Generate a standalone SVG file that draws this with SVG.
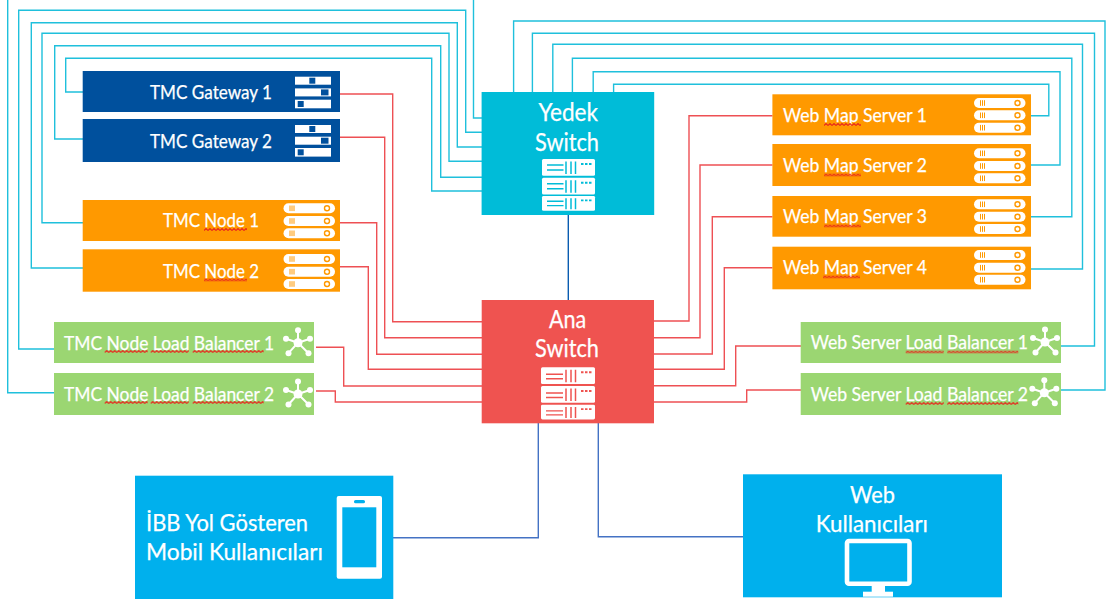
<svg xmlns="http://www.w3.org/2000/svg" xmlns:xlink="http://www.w3.org/1999/xlink" width="1106" height="605" viewBox="0 0 1106 605">
<style>
text{font-family:"Lato","Carlito","Liberation Sans",sans-serif;fill:#fff;stroke:#fff;stroke-width:.25}
.s{font-size:19px}.m{font-size:23px}.l{font-size:24.500px}
.cy,.rd,.bl,.bd{fill:none;stroke-width:1.4}
.cy{stroke:#1fc0dc}.rd{stroke:#ee5054}.bl{stroke:#4472c4}.bd{stroke:#0a5cb0}
.w{fill:#fff}
.sq{fill:url(#sq)}
.pb{fill:none;stroke:#ff9900;stroke-width:1}
.pc{fill:none;stroke:#ff9900;stroke-width:1.400}
.sp{stroke:#fff;stroke-width:2}
</style>
<defs>
<pattern id="sq" patternUnits="userSpaceOnUse" width="4" height="3"><path d="M0 2.500L2 .5L4 2.500" fill="none" stroke="#e8261c" stroke-width="1.100"/></pattern>
<g id="rack"><rect class="w" width="36" height="8" y="0"/><rect x="14.300" y="1" width="6" height="6" fill="#00509d"/><rect class="w" y="11.700" width="36" height="8"/><rect x="26" y="12.700" width="7.500" height="6" fill="#00509d"/><rect class="w" y="23" width="36" height="8.600"/><rect x="2.700" y="24.300" width="6" height="6" fill="#00509d"/></g>
<g id="pill"><rect class="w" x="0" y="-5" width="51.500" height="10" rx="5"/><path class="pb" d="M6.500-2.800V2.800M8.500-2.800V2.800M10.500-2.800V2.800"/><circle class="pc" cx="43.500" cy="0" r="2.500"/></g>
<g id="star"><path class="sp" d="M0 0L0-12.500M0 0L-12-4M0 0L12-4M0 0L10.500 10.500M0 0L-9.500 10.500"/><circle class="w" r="4.500"/><circle class="w" cy="-12.500" r="3"/><circle class="w" cx="-12" cy="-4" r="3"/><circle class="w" cx="12" cy="-4" r="3"/><circle class="w" cx="10.500" cy="10.500" r="3"/><circle class="w" cx="-9.500" cy="10.500" r="3"/></g>
<g id="yr"><rect class="w" width="53" height="16.700" rx="1.500"/><path d="M5 6H21.500M5 11H21.500M24 2.500V15M29 2.500V15M33.500 2.500V15" stroke="#00bcd8" stroke-width="1.500" fill="none"/><path d="M39 5h2.500M43 5h2.500M47 5h2.500" stroke="#00bcd8" stroke-width="2" fill="none"/></g>
<g id="ar"><rect class="w" width="54" height="16.700" rx="1.500"/><path d="M5 7H22M5 11.500H22M25 2.500V15M30 2.500V15M34.500 2.500V15" stroke="#ef5350" stroke-width="1.500" fill="none"/><path d="M40 5h2.500M44 5h2.500M48 5h2.500" stroke="#ef5350" stroke-width="2" fill="none"/></g>
</defs>
<rect width="1106" height="605" fill="#fff"/>
<g id="connectors">
<path class="cy" d="M54 392.700H7.700V-3H473.500V118H482"/>
<path class="cy" d="M54 349H18.700V10.300H465.700V132.300H482"/>
<path class="cy" d="M83 268H31.300V22.700H457.300V147H482"/>
<path class="cy" d="M83 222.700H42V33.300H449V161.300H482"/>
<path class="cy" d="M83 139H54.700V45.700H440.700V177.300H482"/>
<path class="cy" d="M83 92H65.700V58.300H431.700V191H482"/>
<path class="cy" d="M513.600 92V21H1105V390H1061"/>
<path class="cy" d="M532.400 92V33.300H1094.500V346H1061"/>
<path class="cy" d="M552.800 92V44.300H1082.500V269H1031"/>
<path class="cy" d="M572.400 92V58.300H1071.800V216.700H1031"/>
<path class="cy" d="M593.200 92V71.700H1060V165H1031"/>
<path class="cy" d="M613.600 92V84.300H1048.800V115.700H1031"/>
<path class="rd" d="M340 94H392.700V321.700H482"/>
<path class="rd" d="M340 137.300H384.700V337.700H482"/>
<path class="rd" d="M340 222.700H376.700V354.300H482"/>
<path class="rd" d="M340 266.700H368.300V369.300H482"/>
<path class="rd" d="M316 347.300H343.700V386H482"/>
<path class="rd" d="M316 391H335.300V402H482"/>
<path class="rd" d="M654 321H689V115.700H772.500"/>
<path class="rd" d="M654 337.700H700V165H772.500"/>
<path class="rd" d="M654 354H712.300V216.700H772.500"/>
<path class="rd" d="M654 369.300H724.300V267.700H772.500"/>
<path class="rd" d="M654 385.700H735.700V346H801"/>
<path class="rd" d="M654 402H746.700V390H801"/>
<path class="bd" d="M568.300 215V300"/>
<path class="bl" d="M538.300 423V537.700H393"/>
<path class="bl" d="M598.300 423V536.700H743"/>
</g>
<g id="tmc-gateway-1"><rect x="82.700" y="71" width="257.300" height="41" fill="#00509d"/><text class="s" x="150" y="99" textLength="122" lengthAdjust="spacingAndGlyphs">TMC Gateway 1</text><use xlink:href="#rack" href="#rack" transform="translate(295,76.700)"/></g>
<g id="tmc-gateway-2"><rect x="82.700" y="119" width="257.300" height="43" fill="#00509d"/><text class="s" x="150" y="147.500" textLength="122" lengthAdjust="spacingAndGlyphs">TMC Gateway 2</text><use href="#rack" transform="translate(295,125)"/></g>
<g id="tmc-node-1"><rect x="82.700" y="200" width="257.300" height="41" fill="#ff9900"/><text class="s" x="163" y="227" textLength="96" lengthAdjust="spacingAndGlyphs">TMC Node 1</text><rect class="sq" transform="translate(204,228)" width="43" height="3"/><use href="#pill" transform="translate(283.500,208.300)"/><use href="#pill" transform="translate(283.500,221)"/><use href="#pill" transform="translate(283.500,233.300)"/></g>
<g id="tmc-node-2"><rect x="82.700" y="249.300" width="257.300" height="42.400" fill="#ff9900"/><text class="s" x="163" y="277.500" textLength="96" lengthAdjust="spacingAndGlyphs">TMC Node 2</text><rect class="sq" transform="translate(204,278.500)" width="43" height="3"/><use href="#pill" transform="translate(283.500,259)"/><use href="#pill" transform="translate(283.500,271.700)"/><use href="#pill" transform="translate(283.500,284)"/></g>
<g id="tmc-lb-1"><rect x="54" y="322" width="260" height="41" fill="#9bd672"/><text class="s" x="64" y="349.500" textLength="210" lengthAdjust="spacingAndGlyphs">TMC Node Load Balancer 1</text><rect class="sq" transform="translate(104.700,350)" width="43" height="3"/><rect class="sq" transform="translate(150.700,350)" width="38" height="3"/><rect class="sq" transform="translate(192.700,350)" width="71" height="3"/><use href="#star" transform="translate(298,342.700)"/></g>
<g id="tmc-lb-2"><rect x="54" y="373" width="260" height="42" fill="#9bd672"/><text class="s" x="64" y="400.500" textLength="210" lengthAdjust="spacingAndGlyphs">TMC Node Load Balancer 2</text><rect class="sq" transform="translate(104.700,401)" width="43" height="3"/><rect class="sq" transform="translate(150.700,401)" width="38" height="3"/><rect class="sq" transform="translate(192.700,401)" width="71" height="3"/><use href="#star" transform="translate(298,394)"/></g>
<g id="yedek-switch"><rect x="481.600" y="92" width="172.600" height="123" fill="#00bcd8"/><text class="l" x="538.400" y="121.200" textLength="59.600" lengthAdjust="spacingAndGlyphs">Yedek</text><text class="l" x="535" y="150.500" textLength="64" lengthAdjust="spacingAndGlyphs">Switch</text>
<use href="#yr" transform="translate(542,159)"/><use href="#yr" transform="translate(542,177.700)"/><use href="#yr" transform="translate(542,196) scale(1,.88)"/></g>
<g id="ana-switch"><rect x="481.700" y="300" width="172.300" height="123.300" fill="#ef5350"/><text class="l" x="549" y="328.200" textLength="37.300" lengthAdjust="spacingAndGlyphs">Ana</text><text class="l" x="535" y="357.200" textLength="64" lengthAdjust="spacingAndGlyphs">Switch</text>
<use href="#ar" transform="translate(541,367.300)"/><use href="#ar" transform="translate(541,386)"/><use href="#ar" transform="translate(541,404.700) scale(1,.88)"/></g>
<g id="web-map-1"><rect x="772.400" y="94.300" width="258.600" height="41" fill="#ff9900"/><text class="s" x="783" y="122" textLength="144" lengthAdjust="spacingAndGlyphs">Web Map Server 1</text><rect class="sq" transform="translate(824,123)" width="37" height="3"/><use href="#pill" transform="translate(974,103)"/><use href="#pill" transform="translate(974,115.300)"/><use href="#pill" transform="translate(974,127.700)"/></g>
<g id="web-map-2"><rect x="772.400" y="144" width="258.600" height="42" fill="#ff9900"/><text class="s" x="783" y="172" textLength="144" lengthAdjust="spacingAndGlyphs">Web Map Server 2</text><rect class="sq" transform="translate(824,173.500)" width="37" height="3"/><use href="#pill" transform="translate(974,153.300)"/><use href="#pill" transform="translate(974,166)"/><use href="#pill" transform="translate(974,178.300)"/></g>
<g id="web-map-3"><rect x="772.400" y="196" width="258.600" height="40.700" fill="#ff9900"/><text class="s" x="783" y="223" textLength="144" lengthAdjust="spacingAndGlyphs">Web Map Server 3</text><rect class="sq" transform="translate(824,224.500)" width="37" height="3"/><use href="#pill" transform="translate(974,204.300)"/><use href="#pill" transform="translate(974,216.700)"/><use href="#pill" transform="translate(974,229)"/></g>
<g id="web-map-4"><rect x="772.400" y="246.700" width="258.600" height="42.600" fill="#ff9900"/><text class="s" x="783" y="274" textLength="144" lengthAdjust="spacingAndGlyphs">Web Map Server 4</text><rect class="sq" transform="translate(823,275.500)" width="37" height="3"/><use href="#pill" transform="translate(974,255)"/><use href="#pill" transform="translate(974,267.700)"/><use href="#pill" transform="translate(974,279.700)"/></g>
<g id="web-lb-1"><rect x="800.700" y="322" width="260.300" height="41" fill="#9bd672"/><text class="s" x="810.700" y="349" textLength="217.300" lengthAdjust="spacingAndGlyphs">Web Server Load Balancer 1</text><rect class="sq" transform="translate(905.700,350.500)" width="38" height="3"/><rect class="sq" transform="translate(947.300,350.500)" width="71" height="3"/><use href="#star" transform="translate(1045,342)"/></g>
<g id="web-lb-2"><rect x="800.700" y="373" width="260.300" height="42" fill="#9bd672"/><text class="s" x="810.700" y="400.500" textLength="217.300" lengthAdjust="spacingAndGlyphs">Web Server Load Balancer 2</text><rect class="sq" transform="translate(905.700,402)" width="38" height="3"/><rect class="sq" transform="translate(947.300,402)" width="71" height="3"/><use href="#star" transform="translate(1044.300,392.700)"/></g>
<g id="mobil-kullanicilari"><rect x="135" y="475.700" width="258.300" height="123.300" fill="#00b0ed"/><text class="m" x="146" y="531" textLength="162" lengthAdjust="spacingAndGlyphs">İBB Yol Gösteren</text><text class="m" x="146" y="560" textLength="177" lengthAdjust="spacingAndGlyphs">Mobil Kullanıcıları</text><rect class="w" x="336.700" y="496" width="45.300" height="82.700" rx="2"/><rect x="342.300" y="507.300" width="34" height="60" fill="#00b0ed"/><rect x="354" y="500" width="11" height="3.300" rx="1.600" fill="#00b0ed"/></g>
<g id="web-kullanicilari"><rect x="743" y="474.300" width="259" height="123" fill="#00b0ed"/><text class="m" x="850" y="502.700" textLength="45" lengthAdjust="spacingAndGlyphs">Web</text><text class="m" x="815.700" y="531.700" textLength="112.300" lengthAdjust="spacingAndGlyphs">Kullanıcıları</text><rect x="847" y="541" width="62.500" height="42.700" rx="2" fill="none" stroke="#fff" stroke-width="4.600"/><rect class="w" x="871.700" y="585" width="13.300" height="7"/><rect class="w" x="863" y="591.700" width="30" height="5"/></g>
</svg>
